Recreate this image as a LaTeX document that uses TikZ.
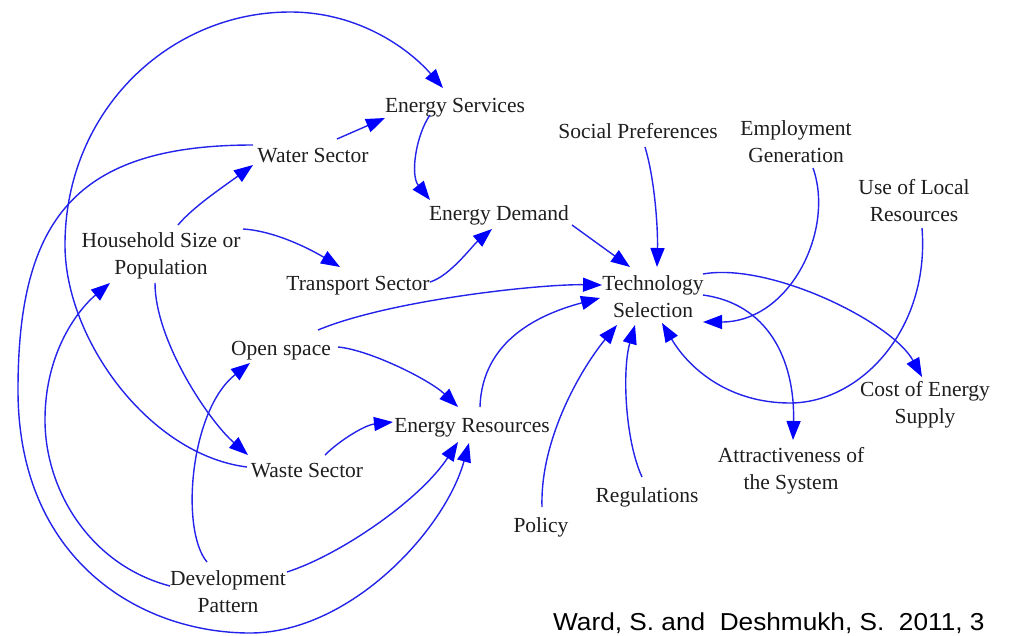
\documentclass[tikz,border=0pt]{standalone}
\usepackage{fontspec}
\setmainfont{Liberation Serif}
\newfontfamily\citefont{Liberation Sans}
\usetikzlibrary{arrows.meta,calc}
\definecolor{lineblue}{RGB}{35,35,235}
\definecolor{tipblue}{RGB}{0,0,255}
\definecolor{txt}{RGB}{30,30,30}
\begin{document}
\begin{tikzpicture}[x=1pt,y=-1pt,
  lbl/.style={font=\fontsize{21.5}{27}\selectfont, text=txt, inner sep=0pt, text height=14pt, text depth=0pt},
  lbl2/.style={font=\fontsize{21.5}{27}\selectfont, text=txt, inner sep=0pt, align=center},
  link/.style={draw=lineblue, line width=1.4pt, -{Triangle[length=19pt,width=14pt,color=tipblue]}}]
\path[use as bounding box, fill=white] (0,0) rectangle (1017,635);

% nodes
\node[lbl]  (es)   at (455,105) {Energy Services};
\node[lbl]  (ws)   at (313,155) {Water Sector};
\node[lbl]  (sp)   at (638,131) {Social Preferences};
\node[lbl2] (eg)   at (796,142) {Employment\\Generation};
\node[lbl2] (ul)   at (914,201) {Use of Local\\Resources};
\node[lbl]  (ed)   at (499,213) {Energy Demand};
\node[lbl2] (hs)   at (161,256) {Household Size or\\Population};
\node[lbl]  (ts)   at (358,283) {Transport Sector};
\node[lbl2] (tech) at (653,297) {Technology\\Selection};
\node[lbl]  (os)   at (281,348) {Open space};
\node[lbl]  (er)   at (472,425) {Energy Resources};
\node[lbl]  (wa)   at (307,470) {Waste Sector};
\node[lbl2] (ce)   at (925,405) {Cost of Energy\\Supply};
\node[lbl2] (at)   at (791,471) {Attractiveness of\\the System};
\node[lbl]  (re)   at (647,495) {Regulations};
\node[lbl]  (po)   at (541,525) {Policy};
\node[lbl2] (dp)   at (228,592) {Development\\Pattern};
\node[anchor=base west, inner sep=0pt, font=\citefont\fontsize{24.5}{28}\selectfont] (cite) at (553,630)
  {\scalebox{1.07}[1]{Ward, S. and\ \ Deshmukh, S.\ \ 2011, 3}};

% connectors
% 1 Waste Sector -> Energy Services (big arc)
\draw[link] ($(wa)+(-60,-3)$) .. controls (150,455) and (65,340) .. (65,245)
  .. controls (65,110) and (170,12) .. (290,12)
  .. controls (360,12) and (410,50) .. ($(es)+(-12,-17)$);
% 2 Water Sector -> Energy Resources (outer arc)
\draw[link] ($(ws)+(-60,-10)$) .. controls (75,145) and (18,220) .. (18,390)
  .. controls (18,560) and (140,633) .. (250,633)
  .. controls (350,633) and (445,530) .. ($(er)+(-3,18)$);
% 3 Development Pattern -> Household Size
\draw[link] ($(dp)+(-58,-6)$) .. controls (90,565) and (45,490) .. (45,420)
  .. controls (45,350) and (80,308) .. ($(hs)+(-51,27)$);
% 4 Household -> Water Sector
\draw[link] ($(hs)+(17,-31)$) .. controls (193,207) and (223,187) .. ($(ws)+(-60,10)$);
% 5 Household -> Transport Sector
\draw[link] ($(hs)+(82,-27)$) .. controls (275,231) and (310,249) .. ($(ts)+(-18,-16)$);
% 6 Water Sector -> Energy Services
\draw[link] ($(ws)+(24,-16)$) -- ($(es)+(-70,13)$);
% 7 Energy Services -> Energy Demand
\draw[link] ($(es)+(-25,10)$) .. controls (416,135) and (410,175) .. ($(ed)+(-69,-13)$);
% 8 Transport Sector -> Energy Demand
\draw[link] ($(ts)+(72,-1)$) .. controls (450,276) and (472,246) .. ($(ed)+(-7,16)$);
% 9 Energy Demand -> Technology
\draw[link] ($(ed)+(73,12)$) -- ($(tech)+(-23,-30)$);
% 10 Social Preferences -> Technology
\draw[link] ($(sp)+(7,16)$) .. controls (655,180) and (658,230) .. ($(tech)+(4,-30)$);
% 11 Employment Generation -> Technology
\draw[link] ($(eg)+(17,26)$) .. controls (835,230) and (790,322) .. ($(tech)+(50,25)$);
% 12 Use of Local Resources -> Technology
\draw[link] ($(ul)+(8,27)$) .. controls (930,330) and (860,403) .. (790,403)
  .. controls (730,403) and (690,370) .. ($(tech)+(9,26)$);
% 13 Technology -> Cost of Energy Supply
\draw[link] ($(tech)+(50,-23)$) .. controls (770,262) and (892,322) .. ($(ce)+(-3,-28)$);
% 14 Technology -> Attractiveness
\draw[link] ($(tech)+(50,-2)$) .. controls (775,305) and (795,370) .. ($(at)+(2,-31)$);
% 15 Open space -> Technology
\draw[link] ($(os)+(37,-18)$) .. controls (390,300) and (540,284) .. ($(tech)+(-51,-12)$);
% 16 Energy Resources -> Technology
\draw[link] ($(er)+(8,-18)$) .. controls (482,340) and (540,314) .. ($(tech)+(-53,1)$);
% 17 Policy -> Technology
\draw[link] ($(po)+(1,-18)$) .. controls (540,440) and (580,370) .. ($(tech)+(-36,28)$);
% 18 Regulations -> Technology
\draw[link] ($(re)+(-5,-18)$) .. controls (625,440) and (622,370) .. ($(tech)+(-18,28)$);
% 19 Open space -> Energy Resources
\draw[link] ($(os)+(57,-1)$) .. controls (370,350) and (430,380) .. ($(er)+(-14,-18)$);
% 20 Waste Sector -> Energy Resources
\draw[link] ($(wa)+(18,-15)$) .. controls (340,440) and (365,425) .. ($(er)+(-79,-3)$);
% 21 Household -> Waste Sector
\draw[link] ($(hs)+(-6,27)$) .. controls (155,340) and (208,420) .. ($(wa)+(-59,-15)$);
% 22 Development Pattern -> Open space
\draw[link] ($(dp)+(-21,-30)$) .. controls (180,530) and (190,410) .. ($(os)+(-31,15)$);
% 23 Development Pattern -> Energy Resources
\draw[link] ($(dp)+(59,-20)$) .. controls (340,555) and (420,500) .. ($(er)+(-14,17)$);
\end{tikzpicture}
\end{document}
